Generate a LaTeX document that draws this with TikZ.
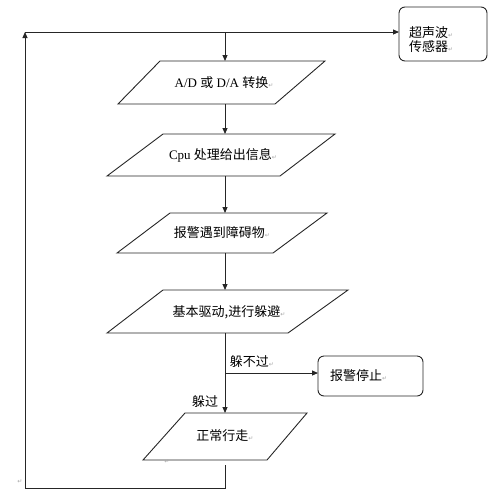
\documentclass[tikz,border=0pt]{standalone}
\usepackage{fontspec}
\setmainfont{Liberation Serif}
\newfontfamily\cjk{Noto Sans CJK SC}
\newfontfamily\symf{DejaVu Sans}
\usetikzlibrary{arrows.meta}
\newcommand\rmk{{\symf\color{black!35}\fontsize{6}{6}\selectfont ↵}}
\tikzset{
  line/.style={line width=0.9pt, draw=black!85},
  arr/.style={line, -{Triangle[length=6pt,width=5pt]}},
  para/.style={line},
  txt/.style={font=\fontsize{13}{15}\selectfont, inner sep=0pt},
  rbox/.style={line, rounded corners=6pt},
}
\begin{document}
\begin{tikzpicture}[x=1pt,y=-1pt]
\useasboundingbox (0,0) rectangle (500,496);
% coordinates
\coordinate (top) at (225,32);
\coordinate (topL) at (25,32);
\coordinate (botL) at (25,488);
\coordinate (botM) at (225,488);
\coordinate (br) at (225,373);
% sensor box
\draw[rbox] (399,7) rectangle (487,61);
\node[txt, anchor=west, align=left] (sensor) at (409,40) {{\cjk 超声波}\rmk\\[-1pt]{\cjk 传感器}\rmk};
\coordinate (sensorW) at (399,32);
% parallelogram 1
\draw[para] (160,61) -- (325,61) -- (275,104) -- (118,104) -- cycle;
\coordinate (p1t) at (225,61); \coordinate (p1b) at (225,104);
\node[txt] (t1) at (224,83) {A/D {\cjk 或} D/A {\cjk 转换}\rmk};
% parallelogram 2
\draw[para] (163,134) -- (335,134) -- (280,176) -- (107,176) -- cycle;
\coordinate (p2t) at (225,134); \coordinate (p2b) at (225,176);
\node[txt] (t2) at (223,155) {Cpu {\cjk 处理给出信息}\rmk};
% parallelogram 3
\draw[para] (170,213) -- (327,213) -- (273,253) -- (117,253) -- cycle;
\coordinate (p3t) at (225,213); \coordinate (p3b) at (225,253);
\node[txt] (t3) at (222,233) {{\cjk 报警遇到障碍物}\rmk};
% parallelogram 4
\draw[para] (163,290) -- (348,290) -- (288,333) -- (107,333) -- cycle;
\coordinate (p4t) at (225,290); \coordinate (p4b) at (225,333);
\node[txt] (t4) at (229,312) {{\cjk 基本驱动,进行躲避}\rmk};
% stop box
\draw[rbox] (318,356) rectangle (423,396);
\coordinate (stopW) at (318,373);
\node[txt, anchor=west] (stop) at (330,376) {{\cjk 报警停止}\rmk};
% parallelogram 5
\draw[para] (185,413) -- (307,413) -- (267,460) -- (143,460) -- cycle;
\coordinate (p5t) at (225,413); \coordinate (p5b) at (225,465);
\node[txt] (t5) at (225,436) {{\cjk 正常行走}\rmk};
% labels
\node[txt] (l1) at (252,362) {{\cjk 躲不过}\rmk};
\node[txt] (l2) at (205,402) {{\cjk 躲过}};
\node[inner sep=0pt] (m1) at (167,462) {\rmk};
\node[inner sep=0pt] (m2) at (20,482) {\rmk};
% connectors
\draw[arr] (topL) -- (sensorW);
\draw[arr] (top) -- (p1t);
\draw[arr] (p1b) -- (p2t);
\draw[arr] (p2b) -- (p3t);
\draw[arr] (p3b) -- (p4t);
\draw[arr] (p4b) -- (p5t);
\draw[arr] (br) -- (stopW);
\draw[arr] (p5b) -- (botM) -- (botL) -- (topL);
\end{tikzpicture}
\end{document}
